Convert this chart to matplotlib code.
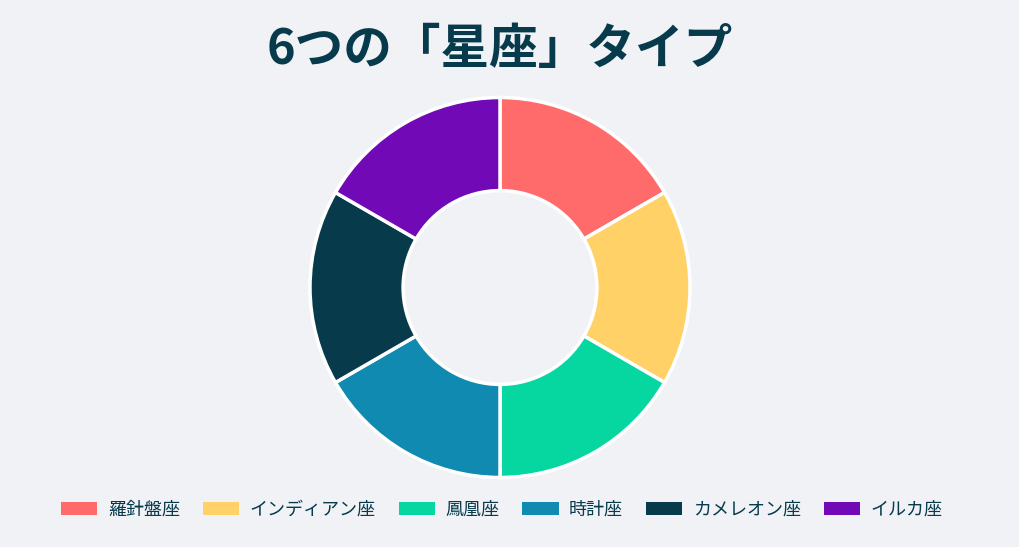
import matplotlib.pyplot as plt
from matplotlib.patches import Patch

plt.rcParams['font.family'] = ['Noto Sans CJK JP', 'DejaVu Sans']

# Data
labels = ['羅針盤座', 'インディアン座', '鳳凰座', '時計座', 'カメレオン座', 'イルカ座']
values = [1, 1, 1, 1, 1, 1]
colors = ['#FF6B6B', '#FFD166', '#06D6A0', '#118AB2', '#073B4C', '#7209B7']
title = '6つの「星座」タイプ'

bg = '#F0F2F6'
dark = '#073B4C'

fig = plt.figure(figsize=(10.19, 5.47), dpi=100, facecolor=bg)
ax = fig.add_axes([310 / 1019, 69 / 547, 380 / 1019, 381 / 547])
ax.set_facecolor(bg)

ax.pie(values, colors=colors, startangle=90, counterclock=False,
       wedgeprops=dict(width=0.49, edgecolor='white', linewidth=2.5))
ax.set_aspect('equal')
ax.set_xlim(-1.0, 1.0)
ax.set_ylim(-1.0, 1.0)
ax.axis('off')

fig.text(0.4907, 1 - 50 / 547, title, ha='center', va='center',
         fontsize=35, fontweight='bold', color=dark)

handles = [Patch(facecolor=c, edgecolor='none') for c in colors]
fig.legend(handles, labels, loc='center', bbox_to_anchor=(0.4925, 1 - 510 / 547),
           ncol=6, frameon=False, fontsize=13, labelcolor=dark,
           handlelength=2.0, handleheight=0.7, handletextpad=0.58,
           columnspacing=1.28)

fig.savefig('out.png', dpi=100, facecolor=bg)
